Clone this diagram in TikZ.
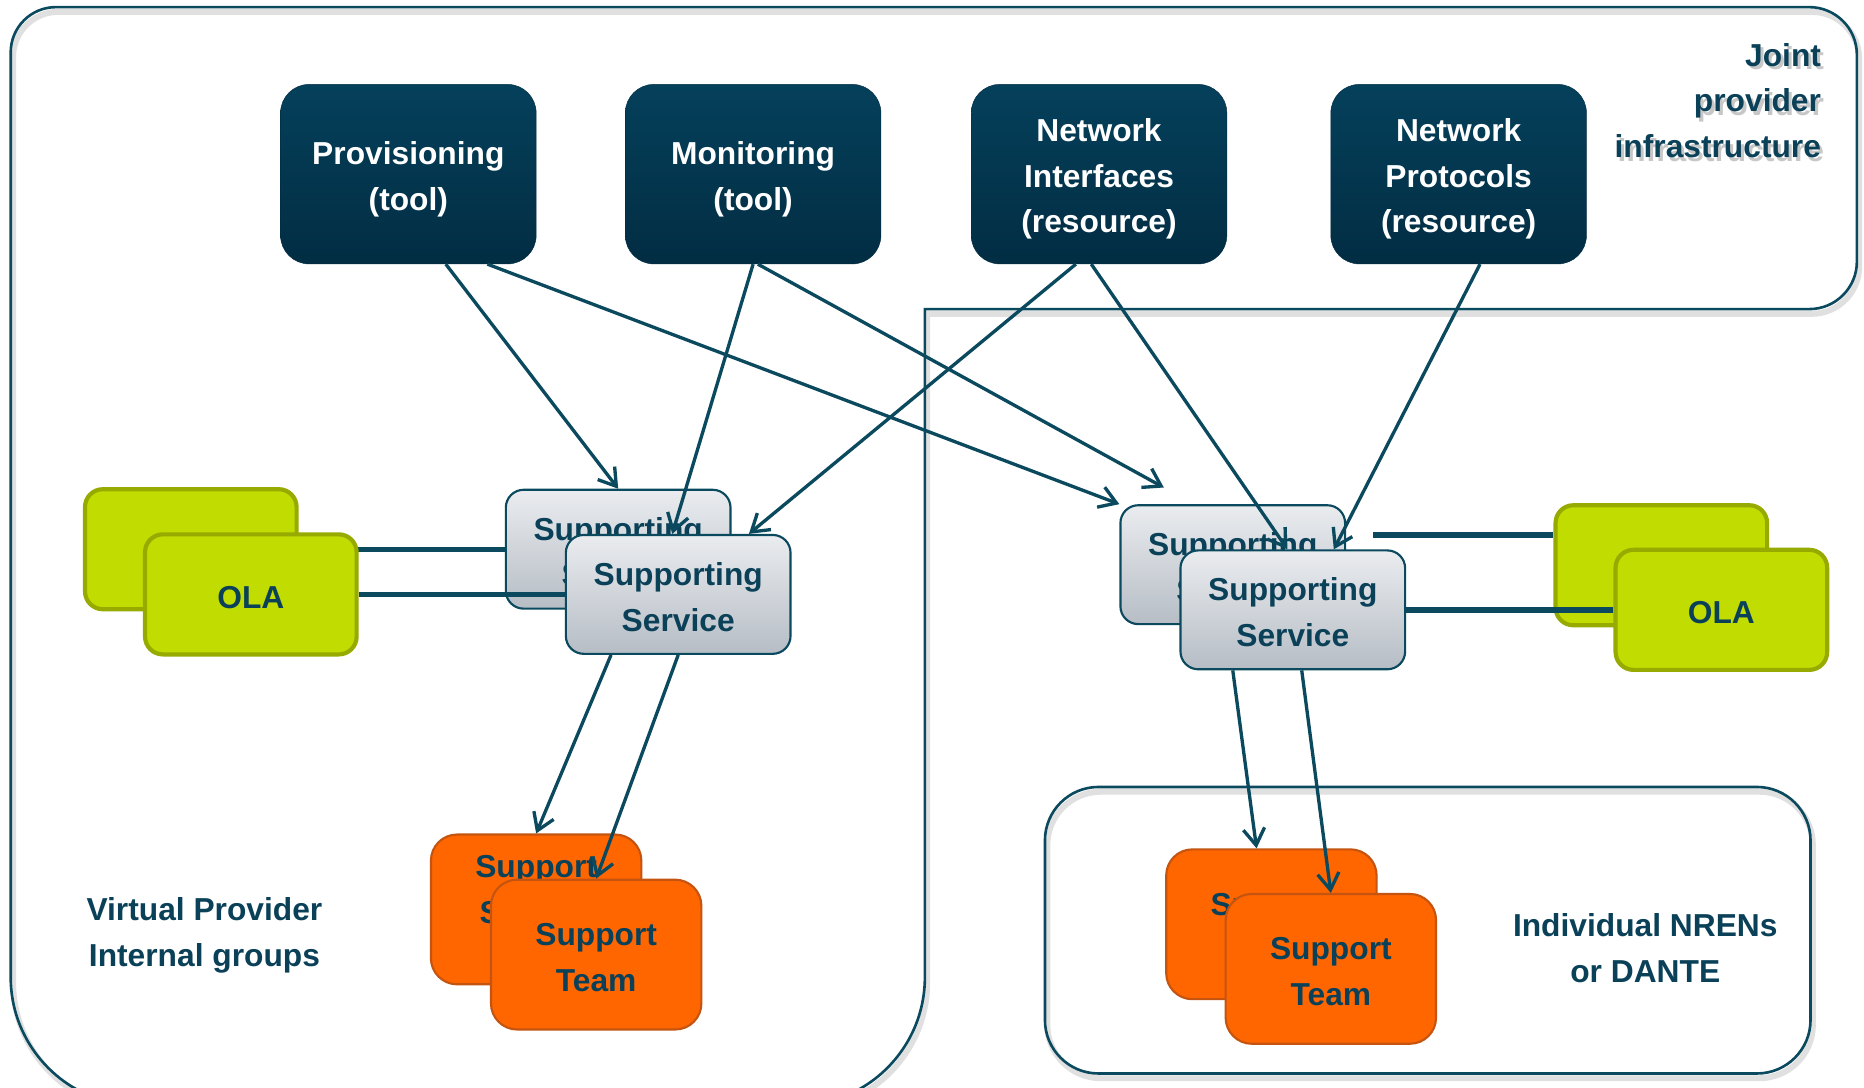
\documentclass[tikz,border=0pt]{standalone}
\usepackage{fontspec}
\setmainfont{Liberation Sans}
\usetikzlibrary{arrows.meta,calc}
\definecolor{linecol}{HTML}{0B4A5E}
\definecolor{textcol}{HTML}{0B4158}
\definecolor{toolTop}{HTML}{05405B}
\definecolor{toolBot}{HTML}{022D43}
\definecolor{svcTop}{HTML}{EAECEF}
\definecolor{svcBot}{HTML}{B6BDC5}
\definecolor{olaFill}{HTML}{C0DC00}
\definecolor{olaEdge}{HTML}{96AA00}
\definecolor{teamFill}{HTML}{FF6600}
\definecolor{teamEdge}{HTML}{C45410}
\newcommand{\lift}[1]{\rule{0pt}{#1}}

\begin{document}
\begin{tikzpicture}[x=1pt,y=1pt,font={\fontsize{26.7}{38.5}\selectfont\bfseries},
    every node/.style={inner sep=0pt,align=center,text=textcol},
    frame/.style={draw=linecol,line width=2.2},
    shade/.style={draw=black!12,line width=5},
    tool/.style={rounded corners=24,minimum width=215,minimum height=151,
      top color=toolTop,bottom color=toolBot,draw=toolBot,text=white},
    svc/.style={rounded corners=15,minimum width=189,minimum height=100,
      top color=svcTop,bottom color=svcBot,draw=linecol,line width=1.8},
    ola/.style={rounded corners=15,minimum width=178,minimum height=101,
      fill=olaFill,draw=olaEdge,line width=3.5},
    team/.style={rounded corners=22,minimum width=177,minimum height=126,
      fill=teamFill,draw=teamEdge,line width=1.8},
    link/.style={draw=linecol,line width=4.5},
    arr/.style={draw=linecol,line width=2.8,-{Straight Barb[length=14pt,width=18pt]}}]
  \fill[white] (0,0) rectangle (1568,-915);
  \useasboundingbox (0,0) rectangle (1568,-915);

  % frames
  \begin{scope}[xshift=2,yshift=-4]
    \draw[shade] (9,-44) arc[start angle=180,end angle=90,radius=38] -- (1522,-6)
      arc[start angle=90,end angle=0,radius=40] -- (1562,-220)
      arc[start angle=0,end angle=-90,radius=40] -- (778,-260) -- (778,-822)
      arc[start angle=0,end angle=-90,radius=108] -- (117,-930)
      arc[start angle=270,end angle=180,radius=108] -- cycle;
    \draw[shade,rounded corners=45] (879,-662) rectangle (1523,-903);
  \end{scope}
  \draw[frame] (9,-44) arc[start angle=180,end angle=90,radius=38] -- (1522,-6)
    arc[start angle=90,end angle=0,radius=40] -- (1562,-220)
    arc[start angle=0,end angle=-90,radius=40] -- (778,-260) -- (778,-822)
    arc[start angle=0,end angle=-90,radius=108] -- (117,-930)
    arc[start angle=270,end angle=180,radius=108] -- cycle;
  \draw[frame,rounded corners=45] (879,-662) rectangle (1523,-903);

  % tools and resources
  \node[tool] (prov) at (343.5,-146.5) {\lift{27.5pt}Provisioning\\(tool)};
  \node[tool] (mon) at (633.5,-146.5) {\lift{27.5pt}Monitoring\\(tool)};
  \node[tool] (netif) at (924.5,-146.5) {\lift{27.5pt}Network\\Interfaces\\(resource)};
  \node[tool] (netpr) at (1227,-146.5) {\lift{27.5pt}Network\\Protocols\\(resource)};

  % back boxes
  \node[ola] (olaLb) at (160.5,-462) {};
  \node[svc] (ssLb) at (520,-462) {\lift{23.5pt}Supporting\\Service};
  \node[ola] (olaRb) at (1397.5,-475.5) {};
  \node[svc] (ssRb) at (1037,-475) {\lift{23.5pt}Supporting\\Service};
  \node[team] (stLb) at (451,-765) {\lift{23.5pt}Support\\Service\\Team};
  \node[team] (stRb) at (1069.5,-777.5) {\lift{23.5pt}Support\\Team};

  \coordinate (linkR) at (1155,-450);
  \draw[link] (olaLb.east) -- (ssLb.west);
  \draw[link] (linkR) -- (linkR -| olaRb.west);

  % front boxes
  \node[ola] (olaLf) at (211,-500) {\lift{23.5pt}OLA};
  \node[svc] (ssLf) at (570.5,-500) {\lift{23.5pt}Supporting\\Service};
  \node[ola] (olaRf) at (1448,-513) {\lift{23.5pt}OLA};
  \node[svc] (ssRf) at (1087.5,-513) {\lift{23.5pt}Supporting\\Service};
  \node[team] (stLf) at (501.5,-803) {\lift{23.5pt}Support\\Team};
  \node[team] (stRf) at (1119.5,-815) {\lift{23.5pt}Support\\Team};
  \draw[link] (olaLf.east) -- (ssLf.west);
  \draw[link] (ssRf.east) -- (olaRf.west);

  \draw[arr] ($(prov.south)+(31.5,0)$) -- (ssLb.north);
  \draw[arr] ($(prov.south)+(66.5,0)$) -- (ssRb.north west);
  \draw[arr] (mon.south) -- ($(ssLf.north)+(-5,0)$);
  \draw[arr] ($(mon.south)+(4,0)$) -- ($(ssRb.north)+(-58,14)$);
  \draw[arr] ($(netif.south)+(-19.5,0)$) -- ($(ssLf.north)+(59.5,0)$);
  \draw[arr] ($(netif.south)+(-6.5,0)$) -- ($(ssRf.north)+(-4.5,0)$);
  \draw[arr] ($(netpr.south)+(18,0)$) -- ($(ssRf.north)+(34.5,0)$);
  \draw[arr] ($(ssLf.south)+(-56.5,0)$) -- (stLb.north);
  \draw[arr] (ssLf.south) -- (stLf.north);
  \draw[arr] ($(ssRf.south)+(-50.5,0)$) -- ($(stRb.north)+(-12.5,0)$);
  \draw[arr] ($(ssRf.south)+(7.5,0)$) -- (stRf.north);

  % labels
  \node[anchor=east,align=right,text=black!22] (jointsh) at (1534.5,-87.5)
    {Joint\\provider\\infrastructure};
  \node[anchor=east,align=right] (joint) at (1532,-84.5)
    {Joint\\provider\\infrastructure};
  \node (vp) at (172,-784.5) {\lift{23.5pt}Virtual Provider\\Internal groups};
  \node (nren) at (1384,-797.5) {Individual NRENs\\or DANTE};
\end{tikzpicture}
\end{document}
